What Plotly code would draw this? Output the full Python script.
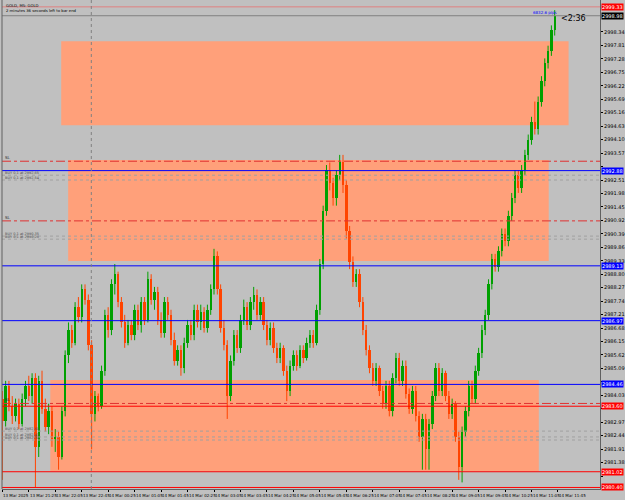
import plotly.graph_objects as go

# ---- candle data (GOLD, M5) ----
opens = [2983.9, 2983.0, 2984.4, 2983.6, 2983.2, 2983.7, 2982.9, 2983.9, 2984.4, 2984.0,
         2984.7, 2982.0, 2984.6, 2983.5, 2982.8, 2983.4, 2982.3, 2982.4, 2981.6, 2983.4,
         2985.6, 2986.6, 2986.1, 2987.5, 2987.1, 2988.2, 2987.8, 2986.0, 2983.3, 2984.0,
         2983.6, 2985.0, 2987.2, 2986.6, 2988.4, 2988.8, 2987.7, 2986.9, 2986.1, 2986.8,
         2986.4, 2987.4, 2986.8, 2987.7, 2987.0, 2988.6, 2987.8, 2988.1, 2987.0, 2986.5,
         2987.7, 2987.2, 2986.2, 2985.4, 2985.8, 2985.1, 2986.1, 2986.8, 2986.4, 2987.4,
         2986.9, 2987.3, 2986.7, 2987.4, 2988.2, 2989.5, 2988.2, 2986.7, 2986.0, 2984.0,
         2985.4, 2986.4, 2985.9, 2987.0, 2987.5, 2986.8, 2987.7, 2988.0, 2987.2, 2987.7,
         2986.8, 2986.2, 2986.7, 2985.9, 2985.5, 2985.9, 2985.0, 2984.2, 2985.2, 2985.6,
         2985.2, 2985.8, 2985.5, 2986.1, 2986.4, 2986.1, 2987.4, 2989.2, 2991.3, 2992.9,
         2992.4, 2991.8, 2992.7, 2993.2, 2992.3, 2990.5, 2989.3, 2988.5, 2988.8, 2987.7,
         2986.6, 2985.8, 2985.1, 2984.6, 2985.1, 2984.2, 2983.7, 2984.4, 2983.4, 2984.7,
         2985.5, 2984.6, 2985.2, 2984.1, 2983.5, 2984.2, 2983.2, 2982.4, 2983.1, 2981.9,
         2982.9, 2984.0, 2985.1, 2984.2, 2984.9, 2984.0, 2983.3, 2983.7, 2982.4, 2981.2,
         2982.6, 2983.4, 2984.4, 2983.9, 2985.0, 2985.7, 2986.6, 2987.2, 2988.4, 2989.4,
         2989.1, 2989.7, 2990.4, 2990.1, 2991.1, 2991.8, 2992.7, 2992.2, 2992.9, 2993.5,
         2994.1, 2994.8, 2994.5, 2995.6, 2996.4, 2997.1, 2997.6, 2998.4]
highs = [2984.2, 2984.6, 2984.6, 2984.0, 2983.9, 2983.9, 2984.1, 2984.6, 2984.8, 2984.9,
         2984.9, 2984.8, 2985.0, 2983.9, 2983.7, 2983.6, 2982.7, 2982.6, 2983.6, 2985.8,
         2986.9, 2986.8, 2987.7, 2987.9, 2988.4, 2988.4, 2988.0, 2986.2, 2984.2, 2984.1,
         2985.2, 2987.4, 2987.5, 2988.6, 2989.2, 2988.9, 2987.9, 2987.2, 2987.0, 2987.0,
         2987.6, 2987.6, 2987.9, 2987.9, 2988.9, 2988.8, 2988.3, 2988.3, 2987.3, 2987.9,
         2987.9, 2987.4, 2986.5, 2986.0, 2986.0, 2986.3, 2987.0, 2987.0, 2987.6, 2987.6,
         2987.6, 2987.5, 2987.6, 2988.4, 2989.8, 2989.7, 2988.4, 2987.0, 2986.2, 2985.6,
         2986.6, 2986.6, 2987.2, 2987.8, 2987.7, 2987.9, 2988.3, 2988.2, 2987.9, 2987.9,
         2987.0, 2986.9, 2986.9, 2986.1, 2986.1, 2986.0, 2985.2, 2985.4, 2985.8, 2985.8,
         2986.0, 2986.0, 2986.3, 2986.6, 2986.6, 2987.6, 2989.4, 2991.5, 2993.1, 2993.2,
         2992.6, 2992.9, 2993.5, 2993.5, 2992.5, 2990.7, 2989.5, 2989.0, 2989.0, 2987.9,
         2986.8, 2986.0, 2985.3, 2985.3, 2985.2, 2984.4, 2984.6, 2984.6, 2984.9, 2985.7,
         2985.7, 2985.4, 2985.4, 2984.3, 2984.4, 2984.4, 2983.4, 2983.3, 2983.3, 2983.1,
         2984.2, 2985.3, 2985.3, 2985.1, 2985.0, 2984.2, 2983.9, 2983.8, 2982.6, 2982.8,
         2983.6, 2984.6, 2984.6, 2985.2, 2985.9, 2986.8, 2987.4, 2988.6, 2989.6, 2989.6,
         2989.9, 2990.6, 2990.6, 2991.3, 2992.0, 2992.9, 2992.9, 2993.1, 2993.7, 2994.3,
         2995.0, 2995.6, 2995.8, 2996.6, 2997.3, 2997.8, 2998.6, 2999.2]
lows = [2980.7, 2982.8, 2983.4, 2982.9, 2983.0, 2982.7, 2982.8, 2983.6, 2983.8, 2983.7,
        2980.4, 2981.6, 2983.3, 2982.6, 2982.5, 2982.0, 2981.8, 2981.1, 2981.5, 2983.2,
        2985.3, 2985.9, 2986.0, 2986.9, 2986.9, 2987.6, 2985.8, 2981.9, 2983.0, 2983.4,
        2983.5, 2984.8, 2986.3, 2986.4, 2988.0, 2987.5, 2986.7, 2985.9, 2986.0, 2986.2,
        2986.2, 2986.6, 2986.5, 2986.8, 2986.9, 2987.6, 2987.4, 2986.8, 2986.3, 2986.3,
        2987.0, 2986.0, 2985.2, 2985.2, 2984.8, 2984.9, 2985.9, 2986.2, 2986.2, 2986.7,
        2986.6, 2986.5, 2986.5, 2987.2, 2988.0, 2988.0, 2986.5, 2985.8, 2983.1, 2983.8,
        2985.2, 2985.7, 2985.7, 2986.8, 2986.6, 2986.6, 2987.4, 2987.0, 2987.0, 2986.6,
        2986.0, 2986.0, 2985.7, 2985.3, 2985.3, 2984.8, 2983.8, 2984.0, 2985.0, 2985.0,
        2985.1, 2985.3, 2985.4, 2985.9, 2985.9, 2986.0, 2987.2, 2989.0, 2991.1, 2992.1,
        2991.5, 2991.5, 2992.5, 2992.0, 2990.2, 2989.0, 2988.3, 2988.3, 2987.5, 2986.4,
        2985.6, 2984.9, 2984.4, 2984.4, 2984.0, 2983.5, 2983.5, 2983.2, 2983.2, 2984.5,
        2984.4, 2984.4, 2983.9, 2983.3, 2983.3, 2983.0, 2982.2, 2981.1, 2981.1, 2981.1,
        2982.7, 2983.8, 2984.0, 2984.0, 2983.8, 2983.1, 2983.1, 2982.2, 2980.7, 2980.6,
        2982.4, 2983.2, 2983.7, 2983.7, 2984.8, 2985.5, 2986.4, 2987.0, 2988.2, 2988.9,
        2988.9, 2989.5, 2989.9, 2989.9, 2990.9, 2991.6, 2992.0, 2992.0, 2992.7, 2993.3,
        2993.9, 2994.3, 2994.3, 2995.4, 2996.2, 2996.9, 2997.4, 2998.2]
closes = [2983.0, 2984.4, 2983.6, 2983.2, 2983.7, 2982.9, 2983.9, 2984.4, 2984.0, 2984.7,
          2982.0, 2984.6, 2983.5, 2982.8, 2983.4, 2982.3, 2982.4, 2981.6, 2983.4, 2985.6,
          2986.6, 2986.1, 2987.5, 2987.1, 2988.2, 2987.8, 2986.0, 2983.3, 2984.0, 2983.6,
          2985.0, 2987.2, 2986.6, 2988.4, 2988.8, 2987.7, 2986.9, 2986.1, 2986.8, 2986.4,
          2987.4, 2986.8, 2987.7, 2987.0, 2988.6, 2987.8, 2988.1, 2987.0, 2986.5, 2987.7,
          2987.2, 2986.2, 2985.4, 2985.8, 2985.1, 2986.1, 2986.8, 2986.4, 2987.4, 2986.9,
          2987.3, 2986.7, 2987.4, 2988.2, 2989.5, 2988.2, 2986.7, 2986.0, 2984.0, 2985.4,
          2986.4, 2985.9, 2987.0, 2987.5, 2986.8, 2987.7, 2988.0, 2987.2, 2987.7, 2986.8,
          2986.2, 2986.7, 2985.9, 2985.5, 2985.9, 2985.0, 2984.2, 2985.2, 2985.6, 2985.2,
          2985.8, 2985.5, 2986.1, 2986.4, 2986.1, 2987.4, 2989.2, 2991.3, 2992.9, 2992.4,
          2991.8, 2992.7, 2993.2, 2992.3, 2990.5, 2989.3, 2988.5, 2988.8, 2987.7, 2986.6,
          2985.8, 2985.1, 2984.6, 2985.1, 2984.2, 2983.7, 2984.4, 2983.4, 2984.7, 2985.5,
          2984.6, 2985.2, 2984.1, 2983.5, 2984.2, 2983.2, 2982.4, 2983.1, 2981.9, 2982.9,
          2984.0, 2985.1, 2984.2, 2984.9, 2984.0, 2983.3, 2983.7, 2982.4, 2981.2, 2982.6,
          2983.4, 2984.4, 2983.9, 2985.0, 2985.7, 2986.6, 2987.2, 2988.4, 2989.4, 2989.1,
          2989.7, 2990.4, 2990.1, 2991.1, 2991.8, 2992.7, 2992.2, 2992.9, 2993.5, 2994.1,
          2994.8, 2994.5, 2995.6, 2996.4, 2997.1, 2997.6, 2998.4, 2998.98]

x_labels = ["13 Mar 2025", "13 Mar 21:25", "13 Mar 22:05", "13 Mar 22:45", "14 Mar 00:25", "14 Mar 01:05",
            "14 Mar 01:45", "14 Mar 02:25", "14 Mar 03:05", "14 Mar 03:45", "14 Mar 04:25", "14 Mar 05:05",
            "14 Mar 05:45", "14 Mar 06:25", "14 Mar 07:05", "14 Mar 07:45", "14 Mar 08:25", "14 Mar 09:05",
            "14 Mar 09:45", "14 Mar 10:25", "14 Mar 11:05", "14 Mar 11:45"]
label_every = 8
y_ticks = [2980.85, 2981.38, 2981.91, 2982.44, 2982.97, 2983.50, 2984.03, 2984.56, 2985.09, 2985.62,
           2986.15, 2986.68, 2987.21, 2987.74, 2988.27, 2988.80, 2989.33, 2989.86, 2990.39, 2990.92,
           2991.45, 2991.98, 2992.51, 2993.04, 2993.57, 2994.10, 2994.63, 2995.16, 2995.69, 2996.22,
           2996.75, 2997.28, 2997.81, 2998.34]

zone_x0 = [17.8, 19.9, 14.5]
zone_x1 = [171.2, 165.2, 162.2]
zone_top = [2997.98, 2993.30, 2984.63]
zone_bot = [2994.67, 2989.32, 2981.05]

blue_levels = [2992.88, 2989.13, 2986.97, 2984.46]
red_levels = [2983.60, 2981.02, 2980.40]
sl_levels = [2993.25, 2990.90, 2983.71]
order_levels = [2992.70, 2992.51, 2990.30, 2990.18, 2982.62, 2982.39, 2982.27]
order_texts = ["BUY 0.1 at 2992.65", "BUY 0.1 at 2992.54", "BUY 0.1 at 2990.35", "BUY 0.1 at 2990.26",
               "BUY 0.1 at 2982.60", "BUY 0.1 at 2982.43", "BUY 0.1 at 2982.30"]
bid = 2998.98
ask = 2999.33
separator_bar = 26.9

BULL = "#00A000"
BEAR = "#FF4500"
BG = "#C0C0C0"

n = len(closes)
fig = go.Figure()

for x0, x1, t, b in zip(zone_x0, zone_x1, zone_top, zone_bot):
    fig.add_shape(type="rect", x0=x0, x1=x1, y0=b, y1=t, xref="x", yref="y",
                  fillcolor="#FFA07A", line=dict(width=0), layer="below")

for lv in blue_levels:
    fig.add_shape(type="line", xref="paper", x0=0, x1=1, y0=lv, y1=lv, line=dict(color="#0000FF", width=1))
for lv in red_levels:
    fig.add_shape(type="line", xref="paper", x0=0, x1=1, y0=lv, y1=lv, line=dict(color="#FF0000", width=1))
for lv in sl_levels:
    fig.add_shape(type="line", xref="paper", x0=0, x1=1, y0=lv, y1=lv,
                  line=dict(color="#E03030", width=1, dash="dashdot"))
    fig.add_annotation(x=0, xref="paper", y=lv, yref="y", xanchor="left", yanchor="bottom", text="SL",
                       showarrow=False, font=dict(size=4, color="#303030"), xshift=1, yshift=-1)
for lv in order_levels:
    fig.add_shape(type="line", xref="paper", x0=0, x1=1, y0=lv, y1=lv,
                  line=dict(color="#A0A0A0", width=1, dash="dot"))
for lv, txt in zip(order_levels, order_texts):
    fig.add_annotation(x=0, xref="paper", y=lv, yref="y", xanchor="left", yanchor="bottom", text=txt,
                       showarrow=False, font=dict(size=3.5, color="#505050"), xshift=1, yshift=-2)
fig.add_shape(type="line", xref="paper", x0=0, x1=1, y0=ask, y1=ask, line=dict(color="#E08080", width=1))
fig.add_shape(type="line", xref="paper", x0=0, x1=1, y0=bid, y1=bid, line=dict(color="#808080", width=1))
fig.add_shape(type="line", yref="paper", y0=0, y1=1, x0=separator_bar, x1=separator_bar,
              line=dict(color="#808080", width=1, dash="dot"))

for color, bull in ((BULL, True), (BEAR, False)):
    wx, wy, bx, bb, bh = [], [], [], [], []
    for i in range(n):
        o, c = opens[i], closes[i]
        if (c >= o) != bull:
            continue
        wx += [i, i, None]
        wy += [lows[i], highs[i], None]
        bx.append(i)
        bb.append(min(o, c))
        bh.append(max(abs(c - o), 0.04))
    fig.add_trace(go.Scatter(x=wx, y=wy, mode="lines", line=dict(color=color, width=1),
                             hoverinfo="skip", showlegend=False))
    fig.add_trace(go.Bar(x=bx, y=bh, base=bb, width=0.72, marker=dict(color=color, line=dict(width=0)),
                         showlegend=False))

for k, txt in enumerate(x_labels):
    fig.add_annotation(x=k * label_every, y=0, xref="x", yref="paper", yanchor="top", xanchor="left",
                       text=txt, showarrow=False, font=dict(size=4, color="#000000"), xshift=-1, yshift=-2)

tags = [(lv, "#0000FF") for lv in blue_levels] + [(lv, "#FF0000") for lv in red_levels] + \
       [(ask, "#FF0000"), (bid, "#000000")]
tag_prices = [t[0] for t in tags]
for price, bg in tags:
    fig.add_annotation(x=1, xref="paper", y=price, yref="y", xanchor="left", yanchor="middle",
                       text=f"{price:.2f}", showarrow=False, bgcolor=bg, borderpad=0,
                       font=dict(size=5, color="#FFFFFF"), xshift=1)

tick_text = [("" if min(abs(v - p) for p in tag_prices) < 0.19 else f"{v:.2f}") for v in y_ticks]

fig.add_annotation(x=0, y=1, xref="paper", yref="paper", xanchor="left", yanchor="top",
                   text="GOLD, M5: GOLD<br>2 minutes 36 seconds left to bar end", align="left",
                   showarrow=False, font=dict(size=3.8, color="#000000"), xshift=2, yshift=-1)
fig.add_annotation(x=n - 1, y=bid, xref="x", yref="y", xanchor="left", yanchor="middle",
                   text="<2:36", showarrow=False, font=dict(size=8, color="#000000"), xshift=4, yshift=-3)
fig.add_annotation(x=n - 1, y=ask, xref="x", yref="y", xanchor="right", yanchor="middle",
                   text="6832.6 pips", showarrow=False, font=dict(size=4, color="#0000FF"), xshift=4, yshift=-6)

fig.update_layout(
    width=625, height=500, margin=dict(l=2, r=22, t=0, b=11),
    paper_bgcolor=BG, plot_bgcolor=BG, bargap=0, barmode="overlay",
    xaxis=dict(range=[-0.1, 180.7], showgrid=False, zeroline=False, showticklabels=False,
               tickvals=[k * label_every for k in range(len(x_labels))], ticks="outside", ticklen=2,
               tickcolor="#000000", showline=True, linecolor="#606060", linewidth=1),
    yaxis=dict(range=[2980.34, 2999.60], side="right", showgrid=False, zeroline=False,
               tickvals=y_ticks, ticktext=tick_text, ticks="outside", ticklen=2,
               tickcolor="#000000", tickfont=dict(size=5, color="#000000"),
               showline=True, linecolor="#606060", linewidth=1),
    font=dict(family="DejaVu Sans"),
    showlegend=False,
)
fig.add_shape(type="line", xref="paper", yref="paper", x0=0, x1=0, y0=0, y1=1,
              line=dict(color="#606060", width=1))

fig.write_html("out.html")
